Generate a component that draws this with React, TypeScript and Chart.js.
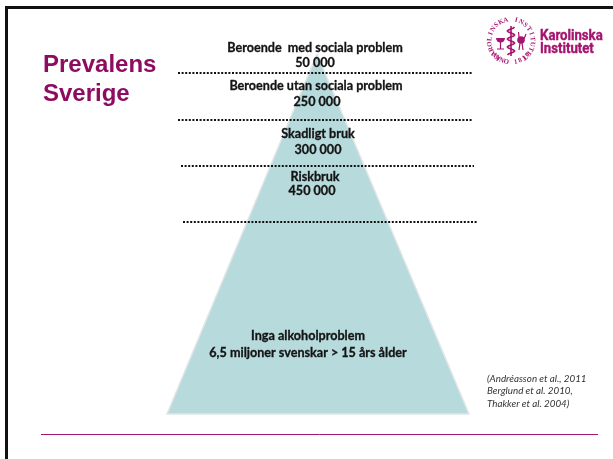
import React, { useEffect, useRef } from "react";
import { Chart, registerables } from "chart.js";

Chart.register(...registerables);

const pyramidX = [317, 469, 167, 317];
const pyramidY = [54, 414, 414, 54];
const dividerY = [73, 120, 166, 222];
const dividerStart = [178, 178, 181, 183];
const dividerEnd = [472, 472, 474, 477];
const ruleX = [41, 598];
const ruleY = [434.5, 434.5];
const frameX = [6.5, 6.5, 613];
const frameY = [459, 7.5, 7.5];

const levelTexts = [
  "Beroende  med sociala problem", "50 000",
  "Beroende utan sociala problem", "250 000",
  "Skadligt bruk", "300 000",
  "Riskbruk", "450 000",
  "Inga alkoholproblem", "6,5 miljoner svenskar > 15 års ålder",
];
const levelTextX = [315, 315, 316, 317, 318, 318, 315, 312, 308, 308];
const levelTextY = [48, 63, 86, 102, 134, 150, 177, 191, 336, 353];
const titleLines = ["Prevalens", "Sverige"];
const titleX = [43, 43];
const titleY = [65, 94];
const citationLines = ["(Andréasson et al., 2011", "Berglund et al. 2010,", "Thakker et al. 2004)"];
const citationX = [487, 487, 487];
const citationY = [379, 391, 404];
const logoLines = ["Karolinska", "Institutet"];
const logoX = [540, 540];
const logoY = [36, 49];
const sealText = "KAROLINSKA INSTITUTET";
const sealFoot = "ANNO 1810";

const PURPLE = "#8e0b62";
const LOGO = "#a5146f";

const slidePlugin = {
  id: "slideText",
  afterDatasetsDraw(chart: any) {
    const { ctx, scales } = chart;
    const X = (v: number) => scales.x.getPixelForValue(v);
    const Y = (v: number) => scales.y.getPixelForValue(v);
    ctx.save();
    ctx.textBaseline = "middle";

    ctx.fillStyle = "#141414";
    ctx.strokeStyle = "#141414";
    ctx.lineWidth = 0.3;
    ctx.textAlign = "center";
    ctx.font = "bold 12.6px Lato";
    levelTexts.forEach((t, i) => {
      ctx.fillText(t, X(levelTextX[i]), Y(levelTextY[i]));
      ctx.strokeText(t, X(levelTextX[i]), Y(levelTextY[i]));
    });

    ctx.textAlign = "left";
    ctx.fillStyle = PURPLE;
    ctx.font = "bold 24px 'Liberation Sans'";
    titleLines.forEach((t, i) => ctx.fillText(t, X(titleX[i]), Y(titleY[i])));

    ctx.fillStyle = "#333333";
    ctx.font = "italic 9.8px Lato";
    citationLines.forEach((t, i) => ctx.fillText(t, X(citationX[i]), Y(citationY[i])));

    // logo wordmark
    ctx.fillStyle = LOGO;
    ctx.strokeStyle = LOGO;
    ctx.lineWidth = 0.4;
    ctx.font = "bold 15.5px Roboto";
    logoLines.forEach((t, i) => {
      ctx.save();
      ctx.translate(X(logoX[i]), Y(logoY[i]));
      ctx.scale(0.85, 1);
      ctx.fillText(t, 0, 0);
      ctx.strokeText(t, 0, 0);
      ctx.restore();
    });

    // seal
    const cx = X(511), cy = Y(41);
    ctx.strokeStyle = LOGO;
    ctx.textAlign = "center";
    ctx.font = "bold 6.8px 'Liberation Serif'";
    const step = 0.245;
    const radius = 21.5;
    [...sealText].forEach((ch, i) => {
      const a = -Math.PI / 2 + (i - (sealText.length - 1) / 2) * step;
      ctx.save();
      ctx.translate(cx + Math.cos(a) * radius, cy + Math.sin(a) * radius);
      ctx.rotate(a + Math.PI / 2);
      ctx.fillText(ch, 0, 0);
      ctx.restore();
    });
    [...sealFoot].forEach((ch, i) => {
      const a = Math.PI / 2 - (i - (sealFoot.length - 1) / 2) * 0.22;
      ctx.save();
      ctx.translate(cx + Math.cos(a) * radius, cy + Math.sin(a) * radius);
      ctx.rotate(a - Math.PI / 2);
      ctx.fillText(ch, 0, 0);
      ctx.restore();
    });
    // staff, serpent, bowl and rooster
    ctx.lineWidth = 1.6;
    ctx.beginPath(); ctx.moveTo(cx, cy - 15); ctx.lineTo(cx, cy + 15); ctx.stroke();
    ctx.lineWidth = 1.7;
    ctx.beginPath();
    for (let i = 0; i <= 28; i++) {
      const p = -14 + i;
      const dx = [3.5, 2.5, 0, -2.5, -3.5, -2.5, 0, 2.5][i % 8];
      if (i === 0) ctx.moveTo(cx + dx, cy + p);
      else ctx.lineTo(cx + dx, cy + p);
    }
    ctx.stroke();
    ctx.beginPath(); ctx.arc(cx - 10.5, cy - 3, 4.5, 0, Math.PI); ctx.closePath(); ctx.fill();
    ctx.lineWidth = 1.2;
    ctx.beginPath(); ctx.moveTo(cx - 10.5, cy); ctx.lineTo(cx - 10.5, cy + 8); ctx.moveTo(cx - 14, cy + 8); ctx.lineTo(cx - 7, cy + 8); ctx.stroke();
    ctx.beginPath(); ctx.arc(cx + 10, cy - 1, 3.8, 0, Math.PI * 2); ctx.fill();
    ctx.beginPath(); ctx.moveTo(cx + 8, cy - 4); ctx.lineTo(cx + 7.5, cy - 9); ctx.moveTo(cx + 9, cy + 2); ctx.lineTo(cx + 8, cy + 9); ctx.moveTo(cx + 11, cy + 2); ctx.lineTo(cx + 12, cy + 9); ctx.moveTo(cx + 13, cy - 2); ctx.lineTo(cx + 15, cy - 7); ctx.stroke();
    ctx.restore();
  },
};

const toPoints = (xs: number[], ys: number[]) => xs.map((x, i) => ({ x, y: ys[i] }));

export default function App() {
  const ref = useRef<HTMLCanvasElement>(null);
  useEffect(() => {
    document.body.style.margin = "0";
    const chart = new Chart(ref.current!, {
      type: "scatter",
      data: {
        datasets: [
          {
            data: toPoints(pyramidX, pyramidY),
            showLine: true,
            fill: "shape",
            backgroundColor: "#b7dadc",
            borderColor: "#e2e6e6",
            borderWidth: 1.5,
            pointRadius: 0,
            tension: 0,
            order: 10,
          },
          ...dividerY.map((y, i) => ({
            data: toPoints([dividerStart[i], dividerEnd[i]], [y, y]),
            showLine: true,
            fill: false,
            borderColor: "#111111",
            borderWidth: 2,
            borderDash: [2, 1.6],
            pointRadius: 0,
            order: 1,
          })),
          {
            data: toPoints(ruleX, ruleY),
            showLine: true,
            fill: false,
            borderColor: "#a5146f",
            borderWidth: 1,
            pointRadius: 0,
            order: 1,
          },
          {
            data: toPoints(frameX, frameY),
            showLine: true,
            fill: false,
            borderColor: "#111111",
            borderWidth: 3,
            pointRadius: 0,
            order: 1,
          },
        ],
      } as any,
      options: {
        animation: false,
        responsive: false,
        layout: { padding: 0 },
        plugins: { legend: { display: false }, tooltip: { enabled: false } },
        scales: {
          x: { type: "linear", min: 0, max: 613, display: false },
          y: { type: "linear", min: 0, max: 459, reverse: true, display: false },
        },
      },
      plugins: [slidePlugin],
    } as any);
    return () => chart.destroy();
  }, []);
  return <canvas ref={ref} width={613} height={459} style={{ display: "block", background: "#fff" }} />;
}
